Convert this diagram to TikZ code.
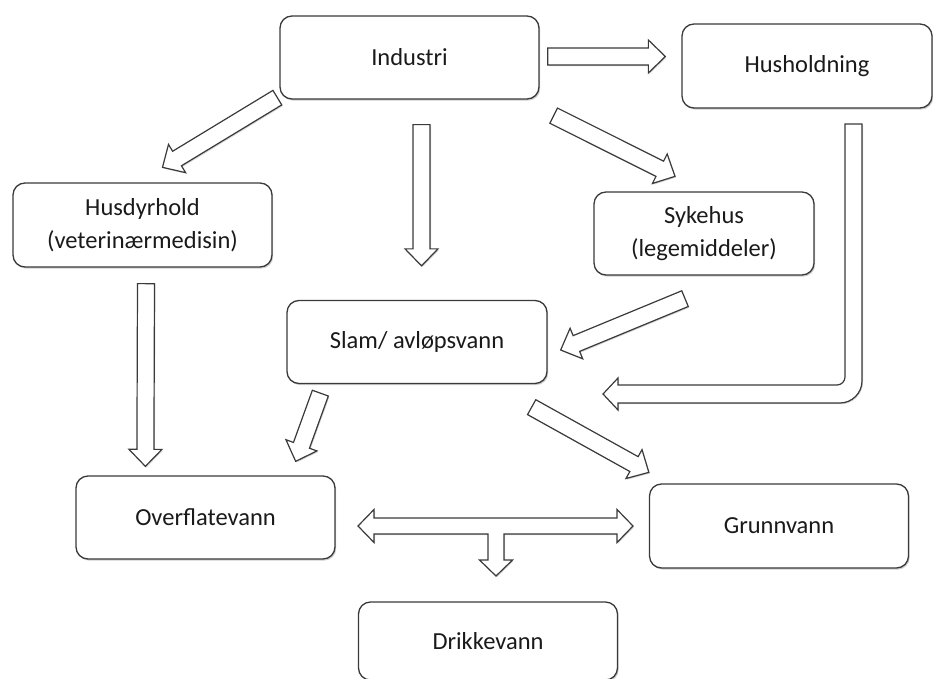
\documentclass[tikz,border=0pt]{standalone}
\usepackage{fontspec}
\setmainfont{Carlito}
\definecolor{boxline}{HTML}{3A3A3A}
\definecolor{txtgray}{HTML}{1A1A1A}
\usetikzlibrary{calc, shadows}

\tikzset{
  box/.style={draw=boxline, line width=1.3pt, rounded corners=12pt, fill=white,
    minimum width=259pt, minimum height=83pt, align=center, text=txtgray,
    font=\fontsize{24.5}{33}\selectfont,
    drop shadow={shadow xshift=1.2pt, shadow yshift=-1.6pt, opacity=0.35, fill=black!55}},
  barrow/.style={draw=boxline, line width=1.2pt, fill=white, line join=miter,
    drop shadow={shadow xshift=1pt, shadow yshift=-1.2pt, opacity=0.3, fill=black!55}}
}

% outlined block arrow from #1 (tail) to #2 (tip)
\newcommand{\blockarrow}[2]{%
  \path let \p1=#1, \p2=#2,
    \n1={atan2(\y2-\y1,\x2-\x1)}, \n2={veclen(\x2-\x1,\y2-\y1)} in
    \pgfextra{\xdef\barang{\n1}\xdef\barlen{\n2}\xdef\barfrom{\x1,\y1}};
  \begin{scope}[shift={(\barfrom)}, rotate=\barang]
    \draw[barrow] (0pt,-8.5pt) -- ({\barlen-17pt},-8.5pt) -- ({\barlen-17pt},-16.5pt)
      -- ({\barlen},0pt) -- ({\barlen-17pt},16.5pt) -- ({\barlen-17pt},8.5pt)
      -- (0pt,8.5pt) -- cycle;
  \end{scope}}

\begin{document}
\begin{tikzpicture}[x=1pt, y=-1pt]
  \useasboundingbox (0,0) rectangle (933,679);

  % boxes
  \node[box] (ind) at (409.5,57.5) {Industri};
  \node[box, minimum width=250pt, minimum height=84pt] (hus) at (807,66) {Husholdning};
  \node[box, minimum height=84pt] (dyr) at (142.5,225) {Husdyrhold\\(veterinærmedisin)};
  \node[box, minimum width=220pt] (syk) at (704,233.5) {Sykehus\\(legemiddeler)};
  \node[box, minimum width=260pt] (slam) at (417,342) {Slam/ avløpsvann};
  \node[box] (ofv) at (205.5,517.5) {Overflatevann};
  \node[box, minimum height=84pt] (grv) at (779,526) {Grunnvann};
  \node[box, minimum height=78pt] (drk) at (488,641) {Drikkevann};

  % arrows
  \blockarrow{($(ind.east)+(8,-1)$)}{($(hus.west)+(-16,-9.5)$)}
  \blockarrow{($(ind.south west)+(-2,-2)$)}{($(dyr.north)+(20,-15)$)}
  \blockarrow{($(ind.south)+(12,25)$)}{($(slam.north)+(4.5,-34)$)}
  \blockarrow{($(ind.south east)+(14,16)$)}{($(syk.north)+(-29,-15)$)}
  \blockarrow{($(syk.south)+(-19,23)$)}{($(slam.east)+(13,8)$)}
  \blockarrow{($(dyr.south)+(3.5,16)$)}{($(ofv.north west)+(70,-9)$)}
  \blockarrow{($(slam.south west)+(34,9)$)}{($(ofv.north east)+(-40,-14)$)}
  \blockarrow{($(slam.south east)+(-16,23)$)}{($(grv.north west)+(0,-11)$)}

  % Husholdning -> Slam
  \draw[barrow] (845,124) -- (862,124) -- (862,381) .. controls (862,393) and (852,403) .. (840,403)
    -- (618,403) -- (618,410) -- (603,394) -- (618,378) -- (618,385) -- (837,385)
    .. controls (841.4,385) and (845,381.4) .. (845,377) -- cycle;

  % Overflatevann <-> Grunnvann, down to Drikkevann
  \draw[barrow] (358,526) -- (374,509.5) -- (374,518) -- (617,518) -- (617,509.5) -- (633,526)
    -- (617,542.5) -- (617,534) -- (504,534) -- (504,560) -- (512.5,560) -- (496,576)
    -- (479.5,560) -- (488,560) -- (488,534) -- (374,534) -- (374,542.5) -- cycle;
\end{tikzpicture}
\end{document}
